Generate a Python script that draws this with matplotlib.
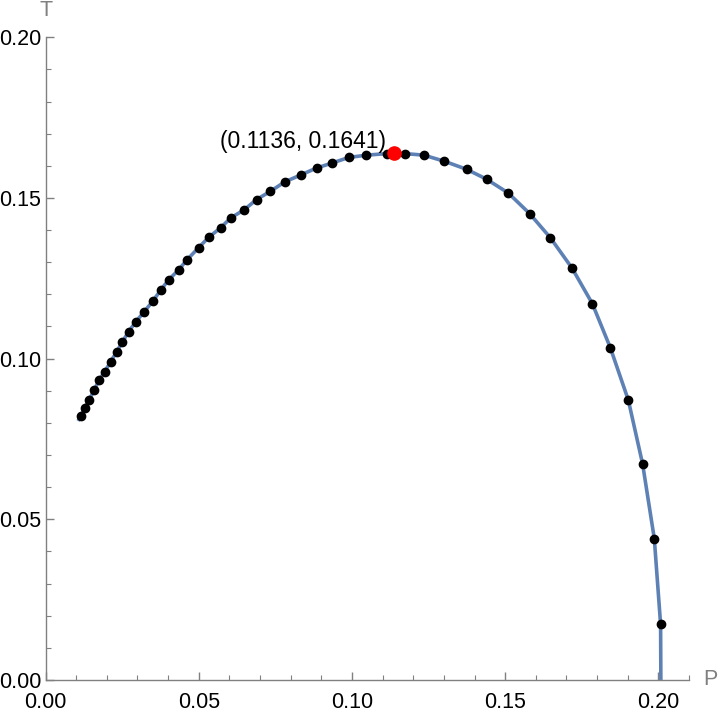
import matplotlib
matplotlib.use('Agg')
import matplotlib.pyplot as plt
from matplotlib.ticker import MultipleLocator

plt.rcParams['font.family'] = ['Liberation Sans', 'DejaVu Sans']

# sampled points (black dots)
P_pts = [0.01145, 0.01275, 0.01416, 0.01588, 0.01742, 0.01928, 0.02123, 0.02319, 0.02502, 0.02710,
         0.02948, 0.03219, 0.03493, 0.03764, 0.04015, 0.04341, 0.04612, 0.04993, 0.05320, 0.05711,
         0.06047, 0.06481, 0.06885, 0.07329, 0.07808, 0.08340, 0.08842, 0.09364, 0.09896, 0.10473,
         0.11145, 0.11722, 0.12351, 0.13017, 0.13744, 0.14397, 0.15104, 0.15799, 0.16474, 0.17179,
         0.17844, 0.18431, 0.19018, 0.19485, 0.19866, 0.20072]
T_pts = [0.0820, 0.0847, 0.0871, 0.0902, 0.0933, 0.0959, 0.0990, 0.1021, 0.1051, 0.1084,
         0.1115, 0.1146, 0.1178, 0.1214, 0.1245, 0.1276, 0.1307, 0.1345, 0.1377, 0.1407,
         0.1438, 0.1463, 0.1495, 0.1520, 0.1550, 0.1572, 0.1593, 0.1609, 0.1626, 0.1633,
         0.1638, 0.1638, 0.1633, 0.1614, 0.1589, 0.1558, 0.1515, 0.1451, 0.1376, 0.1282,
         0.1171, 0.1034, 0.0871, 0.0672, 0.0440, 0.0173]
# curve end points beyond the samples
P_start, T_start = 0.0106, 0.0806
P_end, T_end = 0.2008, 0.0
# critical point
P_c, T_c = 0.1136, 0.1641

P_line = [P_start] + P_pts + [P_end]
T_line = [T_start] + T_pts + [T_end]

fig = plt.figure(figsize=(7.2, 7.16), dpi=100)
ax = fig.add_axes([0.0633, 0.0503, 0.957 - 0.0633, 0.948 - 0.0503])
ax.plot(P_line, T_line, color='#5E81B5', lw=2.6, zorder=2, solid_capstyle='butt')
ax.plot(P_pts, T_pts, 'o', color='black', ms=6, zorder=3)
ax.plot([P_c], [T_c], 'o', color='#FF0000', ms=9.5, zorder=4)
ax.annotate('(%.4f, %.4f)' % (P_c, T_c), (P_c, T_c), xytext=(-65.5, 8), textcoords='offset points',
            ha='center', va='center', fontsize=16.5, color='black')

ax.set_xlim(0, 0.21)
ax.set_ylim(0, 0.20)
ax.xaxis.set_major_locator(MultipleLocator(0.05))
ax.xaxis.set_minor_locator(MultipleLocator(0.01))
ax.yaxis.set_major_locator(MultipleLocator(0.05))
ax.yaxis.set_minor_locator(MultipleLocator(0.01))
ax.xaxis.set_major_formatter(lambda v, pos: '%.2f' % v)
ax.yaxis.set_major_formatter(lambda v, pos: '%.2f' % v)
for s in ('top', 'right'):
    ax.spines[s].set_visible(False)
for s in ('left', 'bottom'):
    ax.spines[s].set_color('#808080')
    ax.spines[s].set_linewidth(1.0)
ax.tick_params(which='major', direction='in', length=6, width=1, color='#808080', labelsize=15.5, labelcolor='black')
ax.tick_params(axis='y', which='major', pad=3)
ax.tick_params(axis='x', which='major', pad=9)
ax.tick_params(which='minor', direction='in', length=3.5, width=0.8, color='#808080')
ax.annotate('P', (1.0, 0), xycoords='axes fraction', xytext=(10.5, 0), textcoords='offset points',
            ha='left', va='center', fontsize=15.5, color='#808080')
ax.annotate('T', (0, 1.0), xycoords='axes fraction', xytext=(0, 19), textcoords='offset points',
            ha='center', va='center', fontsize=15.5, color='#808080')
ax.patch.set_visible(False)

fig.savefig('out.png', dpi=100)
